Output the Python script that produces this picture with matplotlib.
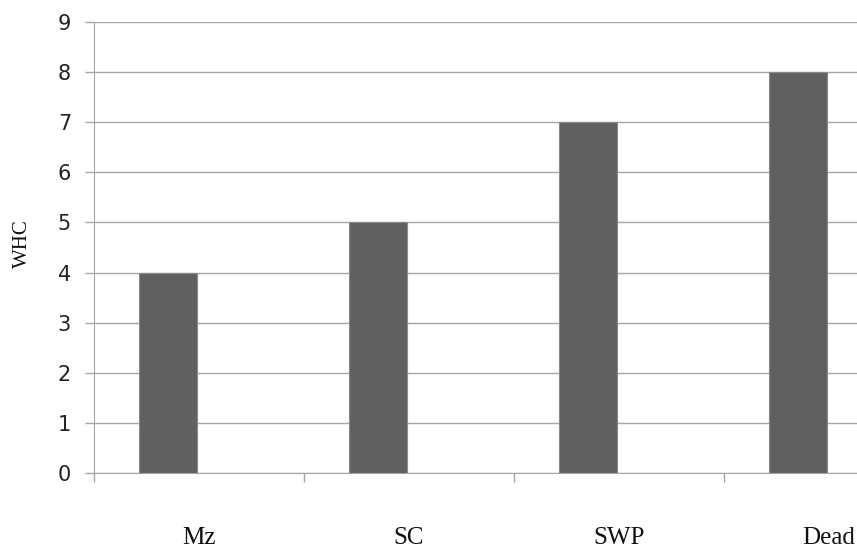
import matplotlib
matplotlib.use("Agg")
import matplotlib.pyplot as plt
from matplotlib.transforms import blended_transform_factory

categories = ["Mz", "SC", "SWP", "Dead"]
whc = [4, 5, 7, 8]
yticks = [0, 1, 2, 3, 4, 5, 6, 7, 8, 9]

W, H = 857, 550
fig = plt.figure(figsize=(W / 100, H / 100), dpi=100)
left = 94 / W
bottom = 1 - 473 / H
top = 1 - 22 / H
ax = fig.add_axes([left, bottom, 1 - left, top - bottom])

xs = list(range(len(categories)))
offset = -0.148
width = 0.28
ax.bar([x + offset for x in xs], whc, width=width, color="#606060",
       edgecolor="#8a8a8a", linewidth=0.8, zorder=3)

ax.set_yticks(yticks)
ax.set_yticklabels([str(t) for t in yticks], fontsize=15, color="#222222",
                   family="DejaVu Sans")
ax.yaxis.grid(True, color="#a6a6a6", linewidth=1.0, zorder=0)
ax.tick_params(axis="y", length=6.5, width=1.0, color="#a6a6a6", pad=10)

# category boundary ticks
ax.set_xticks([x - 0.5 for x in xs])
ax.set_xticklabels([])
ax.tick_params(axis="x", length=6.5, width=1.0, color="#a6a6a6")

ax.set_ylim(0, 9)
ax.set_xlim(-0.5, (W - 94) / 210 - 0.5)

for s in ["top", "right"]:
    ax.spines[s].set_visible(False)
ax.spines["left"].set_color("#a6a6a6")
ax.spines["bottom"].set_color("#a6a6a6")

trans = blended_transform_factory(ax.transData, fig.transFigure)
for x, c in zip(xs, categories):
    ax.text(x, 1 - 527 / H, c, transform=trans, ha="center", va="top",
            fontsize=18, family="Liberation Serif", color="#111111")

fig.text(22 / W, 1 - 244 / H, "WHC", rotation=90, ha="center", va="center",
         fontsize=15, family="Liberation Serif", color="#111111")

fig.savefig("out.png", dpi=100)
